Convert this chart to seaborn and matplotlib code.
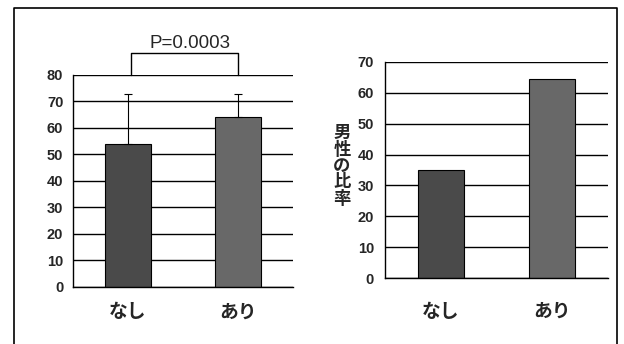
import matplotlib
matplotlib.use("Agg")
import matplotlib.pyplot as plt
from matplotlib.lines import Line2D
from matplotlib.ticker import MultipleLocator, FixedLocator
from matplotlib.transforms import ScaledTranslation
import seaborn as sns
import pandas as pd

# data
categories = ["なし", "あり"]
mean_values = [54, 64]
sd_upper = [19, 9]
male_ratio = [35, 64.5]
p_label = "P=0.0003"
ylabel_right = "男性の比率"

bar_colors = ["#4a4a4a", "#686868"]

sns.set_theme(style="white")
plt.rcParams["font.family"] = ["Liberation Sans", "DejaVu Sans"]

fig = plt.figure(figsize=(6.24, 3.44), dpi=100)

ax1 = fig.add_axes([0.117, 0.1657, 0.3526, 0.6163])
ax2 = fig.add_axes([0.617, 0.191, 0.357, 0.6297])

df1 = pd.DataFrame({"cat": categories, "val": mean_values})
df2 = pd.DataFrame({"cat": categories, "val": male_ratio})

cjk = ["Noto Sans CJK JP", "DejaVu Sans"]


def style_axis(ax, ymax, pad_x, pad_y):
    ax.set_xlim(-0.5, 1.5)
    ax.set_ylim(0, ymax)
    ax.yaxis.set_major_locator(MultipleLocator(10))
    ax.grid(axis="y", color="black", linewidth=1.0)
    ax.set_axisbelow(True)
    for s in ("top", "right"):
        ax.spines[s].set_visible(False)
    for s in ("left", "bottom"):
        ax.spines[s].set_color("black")
        ax.spines[s].set_linewidth(1.0)
    ax.set_xlabel("")
    ax.set_ylabel("")
    ax.tick_params(axis="y", length=0, pad=pad_y, labelsize=10.5)
    for lab in ax.get_yticklabels():
        lab.set_fontweight("bold")
    ax.xaxis.set_major_locator(FixedLocator([0, 1]))
    ax.set_xticklabels(categories, fontfamily=cjk, fontweight="bold",
                       fontsize=13.5)
    # category labels sit slightly right of the bar centres
    shift = ScaledTranslation(5 / 100, 0, fig.dpi_scale_trans)
    for lab in ax.get_xticklabels():
        lab.set_transform(lab.get_transform() + shift)
    ax.tick_params(axis="x", which="major", length=0, pad=pad_x)
    ax.xaxis.set_minor_locator(FixedLocator([0.5, 1.5]))
    ax.tick_params(axis="x", which="minor", direction="in", length=3,
                   width=1, color="black")


sns.barplot(data=df1, x="cat", y="val", hue="cat", palette=bar_colors,
            width=0.41, edgecolor="black", linewidth=0.8, legend=False,
            errorbar=None, ax=ax1)
ax1.errorbar([0, 1], mean_values, yerr=[[0, 0], sd_upper], fmt="none",
             ecolor="black", elinewidth=0.8, capsize=3, capthick=0.8)
style_axis(ax1, 80, 11, 7)

# significance bracket over the two bars
ax1.plot([0.03, 0.03, 1.0, 1.0], [80, 88.2, 88.2, 80], color="black",
         linewidth=1.0, clip_on=False)
ax1.text(0.56, 88.8, p_label, ha="center", va="bottom", fontsize=13.5)

sns.barplot(data=df2, x="cat", y="val", hue="cat", palette=bar_colors,
            width=0.41, edgecolor="black", linewidth=0.8, legend=False,
            errorbar=None, ax=ax2)
style_axis(ax2, 70, 17, 8)

fig.text(342 / 624, 1 - 166 / 344, "\n".join(ylabel_right), ha="center",
         va="center", fontfamily=cjk, fontweight="bold", fontsize=12.5,
         linespacing=0.88)

# outer frame (left, top, right)
fx0, fx1, fy = 14 / 624, 617 / 624, 1 - 8 / 344
fig.add_artist(Line2D([fx0, fx0, fx1, fx1], [0, fy, fy, 0],
                      transform=fig.transFigure, color="black", linewidth=1.2))

fig.savefig("out.png", dpi=100)
